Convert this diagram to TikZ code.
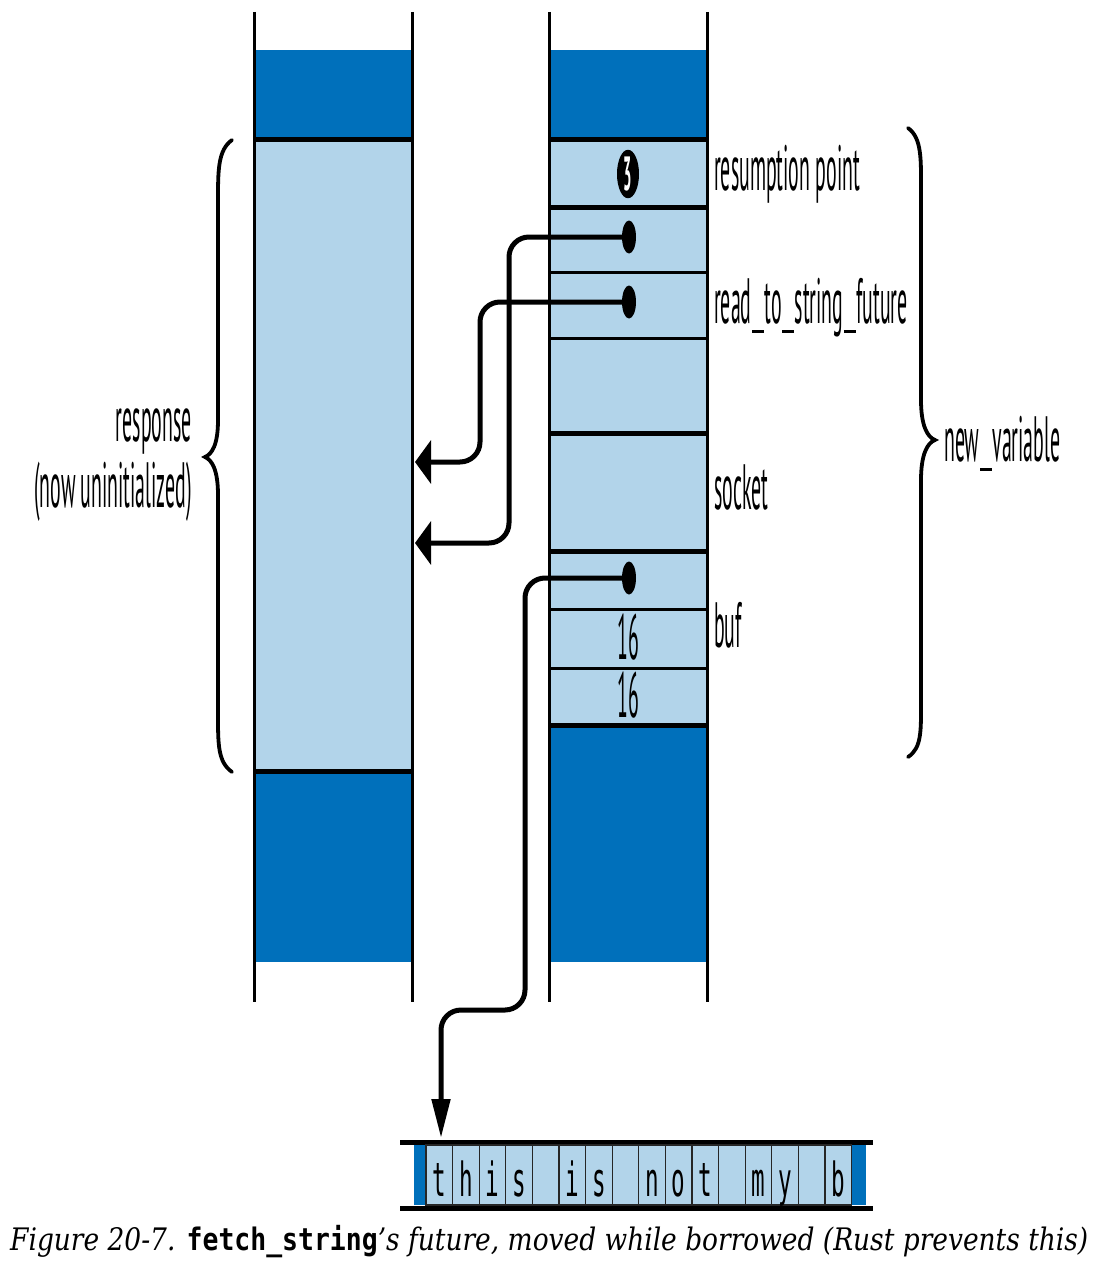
\documentclass[tikz,border=0pt]{standalone}
\usepackage{fontspec}
\usepackage{graphicx}
\usetikzlibrary{arrows.meta,shapes.geometric}
\newfontfamily\labf[FakeStretch=0.31]{PT Sans}
\newfontfamily\numf[FakeStretch=0.31]{PT Sans}
\newfontfamily\bufm[FakeStretch=0.48]{DejaVu Sans Mono}
\newfontfamily\capf{DejaVu Serif}
\newfontfamily\capm{DejaVu Sans Mono}
\definecolor{dkblue}{RGB}{0,112,187}
\definecolor{ltblue}{RGB}{178,212,234}
\newcommand{\usc}{\kern0.5pt\rule[-10pt]{12pt}{3pt}\kern0.5pt}
\begin{document}
\begin{tikzpicture}[x=1pt,y=-1pt,
  lab/.style={font=\labf\fontsize{64}{66}\selectfont, inner sep=0pt},
  numlab/.style={font=\numf\fontsize{64}{66}\selectfont, inner sep=0pt},
  thick line/.style={line width=5pt},
  thin line/.style={line width=3pt},
  colline/.style={line width=3pt},
  ptdot/.style={ellipse, fill=black, minimum width=14pt, minimum height=33pt, inner sep=0pt},
  ptr/.style={line width=5pt, rounded corners=20pt},
  lefttip/.style={-{Triangle[length=16pt,width=43pt]}},
  downtip/.style={-{Triangle[length=39pt,width=18pt]}},
  bracestyle/.style={line width=3.8pt, line cap=round},
  bufcell/.style={rectangle, fill=ltblue, draw=black!85, line width=1.2pt, minimum width=26.6pt, minimum height=60pt, inner sep=0pt},
  bufchar/.style={font=\bufm\fontsize{47}{49}\selectfont, inner sep=0pt}
]
\useasboundingbox (0,0) rectangle (1098,1276);

% left column
\fill[dkblue] (254,50) rectangle (412,140);
\fill[ltblue] (254,140) rectangle (412,771);
\fill[dkblue] (254,771) rectangle (412,962);
\draw[thick line] (254,140) -- (412,140);
\draw[thick line] (254,771) -- (412,771);
\draw[colline] (254,12) -- (254,1002);
\draw[colline] (412,12) -- (412,1002);

% right column
\fill[dkblue] (549,50) rectangle (707,140);
\fill[ltblue] (549,140) rectangle (707,725);
\fill[dkblue] (549,725) rectangle (707,962);
\foreach \yy in {140,207,433,551,725} \draw[thick line] (549,\yy) -- (707,\yy);
\foreach \yy in {272,338,609,668} \draw[thin line] (549,\yy) -- (707,\yy);
\draw[colline] (549,12) -- (549,1002);
\draw[colline] (707,12) -- (707,1002);

% resumption point marker
\node[ellipse, fill=black, minimum width=22pt, minimum height=48pt, inner sep=0pt] (rp) at (628,174)
  {\textcolor{white}{\labf\bfseries\fontsize{48}{50}\selectfont 3}};

% numbers
\node[numlab] (cap1) at (628,637) {16};
\node[numlab] (cap2) at (628,695) {16};

% labels
\node[lab, anchor=base west] (lrp) at (714,190) {resumption point};
\node[lab, anchor=base west] (lrts) at (714,323) {read\usc to\usc string\usc future};
\node[lab, anchor=base west] (lsock) at (714,509) {socket};
\node[lab, anchor=base west] (lbuf) at (714,647) {buf};
\node[lab, anchor=base west] (lnew) at (944,461) {new\usc variable};
\node[lab, anchor=base east] (lresp) at (192,441) {response};
\node[lab, anchor=base east] (lnow) at (192,507) {(now uninitialized)};

% braces
\draw[bracestyle] (232,140) .. controls (218,150) and (218,170) .. (218,200) -- (218,420)
  .. controls (218,445) and (212,454) .. (205,457)
  .. controls (212,460) and (218,470) .. (218,495) -- (218,715)
  .. controls (218,745) and (218,762) .. (232,772);
\draw[bracestyle] (908,128) .. controls (922,138) and (921,160) .. (921,190) -- (921,400)
  .. controls (921,425) and (927,437) .. (935,440)
  .. controls (927,443) and (921,455) .. (921,480) -- (921,700)
  .. controls (921,730) and (922,748) .. (908,757);

% pointer dots
\node[ptdot] (d1) at (629,237) {};
\node[ptdot] (d2) at (629,302) {};
\node[ptdot] (d3) at (629,578) {};

% arrow targets
\coordinate (a1) at (415,543);
\coordinate (a2) at (415,462);
\coordinate (bin) at (441,1138);

% buffer
\draw[thick line] (400,1142) -- (873,1142);
\draw[thick line] (400,1208) -- (873,1208);
\fill[dkblue] (414,1145) rectangle (426,1205);
\fill[dkblue] (852,1145) rectangle (866,1205);
\foreach \c [count=\i from 0] in {t,h,i,s,{},i,s,{},n,o,t,{},m,y,{},b} {
  \node[bufcell] (b\i) at ({439.3+26.6*\i},1175) {};
  \node[bufchar, anchor=base] (c\i) at ({439.3+26.6*\i},1196) {\c};
}

% pointers
\draw[ptr, lefttip] (d1.center) -- (509,237) |- (a1);
\draw[ptr, lefttip] (d2.center) -- (480,302) |- (a2);
\draw[ptr, downtip] (d3.center) -| (525,1010) -| (bin);

% caption
\node[anchor=base west, inner sep=0pt] (caption) at (10,1250)
  {\resizebox{1078pt}{\height}{\capf\itshape\fontsize{31}{33}\selectfont Figure 20-7. {\capm\bfseries\upshape fetch\_string}’s future, moved while borrowed (Rust prevents this)}};
\end{tikzpicture}
\end{document}
